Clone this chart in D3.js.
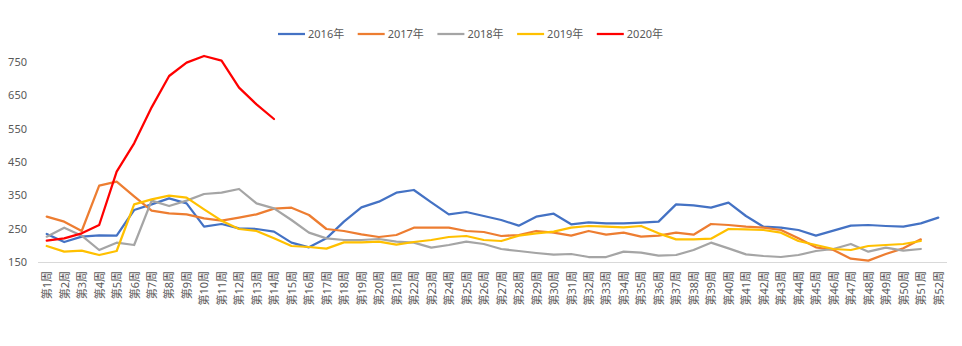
<!DOCTYPE html>
<html>
<head>
<meta charset="utf-8">
<script src="https://cdn.jsdelivr.net/npm/d3@7"></script>
<style>
  html, body { margin: 0; padding: 0; background: #fff; }
  svg { display: block; }
  text { font-family: "Noto Sans", "Noto Sans CJK SC", sans-serif; fill: #595959; }
</style>
</head>
<body>
<svg id="chart" width="962" height="346"></svg>
<script>
const weeks = d3.range(1, 53).map(i => "第" + i + "周");
const seriesNames = ["2016年", "2017年", "2018年", "2019年", "2020年"];
const seriesColors = ["#4472C4", "#ED7D31", "#A5A5A5", "#FFC000", "#FF0000"];
const v2016 = [234,210,226,230,229,306,323,341,326,256,264,251,249,241,208,194,221,271,314,331,358,366,329,293,300,288,276,259,286,295,263,269,266,266,268,271,323,320,313,328,288,256,253,246,229,244,259,261,258,256,266,283];
const v2017 = [286,271,243,379,391,347,304,296,293,281,274,283,293,310,313,291,249,243,233,225,231,253,253,253,243,240,228,231,243,238,229,243,232,238,226,229,238,232,264,261,256,253,246,221,194,186,160,154,174,191,218];
const v2018 = [226,253,229,186,208,201,334,318,334,354,358,369,326,311,276,238,221,216,216,219,211,208,193,201,211,204,189,183,177,172,174,165,165,181,178,169,171,186,208,191,173,168,165,171,183,189,204,181,193,184,189];
const v2019 = [198,181,184,171,183,323,338,349,343,308,274,249,243,221,198,195,190,209,209,211,202,210,216,225,228,216,213,229,236,241,253,258,256,254,258,236,218,218,220,249,248,246,238,213,201,189,186,198,201,204,213];
const v2020 = [214,221,236,261,421,506,614,708,748,768,754,673,623,579];
const yTicks = [150, 250, 350, 450, 550, 650, 750];

const seriesValues = [v2016, v2017, v2018, v2019, v2020];

const svg = d3.select("#chart");
const x = d3.scalePoint().domain(weeks).range([38, 947]).padding(0.5);
const y = d3.scaleLinear().domain([150, 750]).range([262, 62]);

// Y axis labels (no line)
const yAxis = svg.append("g").attr("transform", "translate(38,0)")
  .call(d3.axisLeft(y).tickValues(yTicks).tickSize(0).tickPadding(11));
yAxis.select(".domain").remove();
yAxis.selectAll("text").style("font-size", "11px").attr("fill", "#595959");

// X axis
const xAxis = svg.append("g").attr("transform", "translate(0,262)")
  .call(d3.axisBottom(x).tickSize(0).tickPadding(0));
xAxis.select(".domain").attr("stroke", "#d9d9d9").attr("stroke-width", 1)
  .attr("d", "M38,0.5H947");
xAxis.selectAll("text")
  .style("font-size", "11px")
  .attr("fill", "#595959")
  .attr("text-anchor", "end")
  .attr("transform", "rotate(-90)")
  .attr("x", -9)
  .attr("y", 0)
  .attr("dy", "0.35em");

// Lines
const line = d3.line().x((d, i) => x(weeks[i])).y(d => y(d));
seriesValues.forEach((vals, k) => {
  svg.append("path")
    .datum(vals)
    .attr("fill", "none")
    .attr("stroke", seriesColors[k])
    .attr("stroke-width", 2.25)
    .attr("stroke-linejoin", "round")
    .attr("stroke-linecap", "round")
    .attr("d", line);
});

// Legend
const legend = svg.append("g").attr("transform", "translate(278,34)");
seriesNames.forEach((name, k) => {
  const g = legend.append("g").attr("transform", `translate(${k * 79.7},0)`);
  g.append("line").attr("x1", 0).attr("x2", 27).attr("y1", 0).attr("y2", 0)
    .attr("stroke", seriesColors[k]).attr("stroke-width", 2.25);
  g.append("text").attr("x", 30).attr("y", 0).attr("dy", "0.36em")
    .style("font-size", "11px").text(name);
});
</script>
</body>
</html>
